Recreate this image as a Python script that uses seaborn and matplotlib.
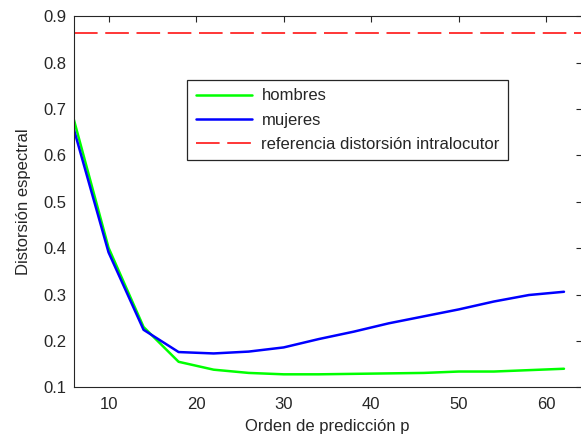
import matplotlib
matplotlib.use("Agg")
import matplotlib.pyplot as plt
import seaborn as sns
import pandas as pd

# Data
orden_p = [6, 10, 14, 18, 22, 26, 30, 34, 38, 42, 46, 50, 54, 58, 62]
hombres = [0.680, 0.401, 0.230, 0.155, 0.138, 0.131, 0.128, 0.128, 0.129, 0.130, 0.131, 0.134, 0.134, 0.137, 0.140]
mujeres = [0.659, 0.391, 0.224, 0.176, 0.173, 0.177, 0.186, 0.204, 0.220, 0.238, 0.253, 0.268, 0.285, 0.299, 0.306]
referencia = 0.863
x_ticks = [10, 20, 30, 40, 50, 60]
y_ticks = [0.1, 0.2, 0.3, 0.4, 0.5, 0.6, 0.7, 0.8, 0.9]
labels = ["hombres", "mujeres", "referencia distorsión intralocutor"]

sns.set_style("white")
plt.rcParams['font.family'] = ['Liberation Sans', 'DejaVu Sans']
plt.rcParams['lines.scale_dashes'] = False

df = pd.DataFrame({
    "p": orden_p * 2,
    "d": hombres + mujeres,
    "serie": [labels[0]] * len(orden_p) + [labels[1]] * len(orden_p),
})

FS = 12
TXT = "#262626"

fig = plt.figure(figsize=(5.81, 4.36), dpi=100)
ax = fig.add_axes([73.5 / 581, 1 - 387.3 / 436, (581.5 - 73.5) / 581, (387.3 - 16.3) / 436])

sns.lineplot(data=df, x="p", y="d", hue="serie",
             palette={labels[0]: (0, 1, 0), labels[1]: (0, 0, 1)},
             linewidth=1.8, ax=ax, legend=False, estimator=None, sort=False)
ax.axhline(referencia, color=(1, 0, 0), linewidth=1.1, dashes=(17, 5.5))

ax.set_xlim(6, 64)
ax.set_ylim(0.1, 0.9)
ax.set_xticks(x_ticks)
ax.set_yticks(y_ticks)
ax.set_yticklabels([f"{v:.1f}" for v in y_ticks])
ax.tick_params(direction="in", length=4, width=0.8, colors=TXT, labelsize=FS,
               top=True, right=True, labelcolor=TXT)
ax.tick_params(axis="x", pad=7)
ax.tick_params(axis="y", pad=5)
for s in ax.spines.values():
    s.set_visible(True)
    s.set_color(TXT)
    s.set_linewidth(0.8)

ax.set_xlabel("Orden de predicción p", fontsize=FS, color=TXT, labelpad=5)
ax.set_ylabel("Distorsión espectral", fontsize=FS, color=TXT, labelpad=9)

handles = [ax.lines[0], ax.lines[1], ax.lines[2]]
leg = ax.legend(handles, labels, loc="upper left", bbox_to_anchor=(0.224, 0.828),
                fontsize=FS, frameon=True, fancybox=False, framealpha=1,
                edgecolor=TXT, handlelength=3.4, handletextpad=0.55,
                labelspacing=0.55, borderpad=0.5, borderaxespad=0)
leg.get_frame().set_linewidth(0.9)

fig.savefig("out.png", dpi=100)
